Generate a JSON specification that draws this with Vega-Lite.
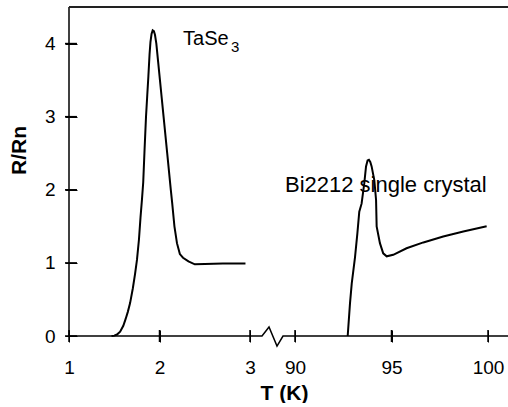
{
  "$schema": "https://vega.github.io/schema/vega-lite/v6.json",
  "padding": {"left": 8, "top": 6, "right": 0, "bottom": 0},
  "background": "white",
  "spacing": 0,
  "bounds": "flush",
  "config": {"view": {"stroke": null}, "font": "Liberation Sans", "axis": {"tickColor": "black", "tickSize": 12, "ticks": true}},
  "datasets": {
    "tase3": [
      {"T": 1.47, "R": 0}, {"T": 1.50, "R": 0.005}, {"T": 1.53, "R": 0.02}, {"T": 1.565, "R": 0.06},
      {"T": 1.60, "R": 0.14}, {"T": 1.625, "R": 0.23}, {"T": 1.65, "R": 0.33}, {"T": 1.675, "R": 0.45},
      {"T": 1.705, "R": 0.65}, {"T": 1.73, "R": 0.85}, {"T": 1.751, "R": 1.04}, {"T": 1.773, "R": 1.32},
      {"T": 1.79, "R": 1.62}, {"T": 1.807, "R": 1.88}, {"T": 1.82, "R": 2.1}, {"T": 1.835, "R": 2.55},
      {"T": 1.851, "R": 3.0}, {"T": 1.865, "R": 3.3}, {"T": 1.877, "R": 3.55}, {"T": 1.89, "R": 3.85},
      {"T": 1.90, "R": 4.02}, {"T": 1.912, "R": 4.13}, {"T": 1.925, "R": 4.18}, {"T": 1.938, "R": 4.17},
      {"T": 1.95, "R": 4.12}, {"T": 1.965, "R": 4.0}, {"T": 1.985, "R": 3.75}, {"T": 2.005, "R": 3.5},
      {"T": 2.025, "R": 3.25}, {"T": 2.045, "R": 3.0}, {"T": 2.085, "R": 2.5}, {"T": 2.125, "R": 2.0},
      {"T": 2.14, "R": 1.82}, {"T": 2.165, "R": 1.5}, {"T": 2.193, "R": 1.27}, {"T": 2.225, "R": 1.12},
      {"T": 2.26, "R": 1.07}, {"T": 2.32, "R": 1.02}, {"T": 2.39, "R": 0.98}, {"T": 2.5, "R": 0.985},
      {"T": 2.7, "R": 0.99}, {"T": 2.95, "R": 0.99}
    ],
    "bi2212": [
      {"T": 92.73, "R": 0}, {"T": 92.85, "R": 0.45}, {"T": 92.94, "R": 0.72}, {"T": 93.11, "R": 1.08},
      {"T": 93.23, "R": 1.40}, {"T": 93.33, "R": 1.70}, {"T": 93.45, "R": 1.81}, {"T": 93.59, "R": 2.09},
      {"T": 93.68, "R": 2.32}, {"T": 93.76, "R": 2.40}, {"T": 93.83, "R": 2.41}, {"T": 93.9, "R": 2.38},
      {"T": 93.97, "R": 2.32}, {"T": 94.11, "R": 2.13}, {"T": 94.20, "R": 1.86}, {"T": 94.23, "R": 1.50},
      {"T": 94.40, "R": 1.27}, {"T": 94.57, "R": 1.13}, {"T": 94.75, "R": 1.09}, {"T": 95.09, "R": 1.11},
      {"T": 95.78, "R": 1.20}, {"T": 96.65, "R": 1.28}, {"T": 97.68, "R": 1.36}, {"T": 98.72, "R": 1.43},
      {"T": 99.93, "R": 1.50}
    ],
    "breakline": [
      {"T": 87.668, "R": 0}, {"T": 88.29, "R": 0}, {"T": 88.653, "R": 0.123},
      {"T": 89.067, "R": -0.137}, {"T": 89.378, "R": 0}, {"T": 101.036, "R": 0}
    ],
    "one": [{"k": 1}],
    "xticksLeft": [{"T": 1}, {"T": 2}, {"T": 3}],
    "yticks": [{"R": 0}, {"R": 1}, {"R": 2}, {"R": 3}, {"R": 4}],
    "xticksRight": [{"T": 90}, {"T": 95}, {"T": 100}],
    "labelsLeft": [{"T": 2.26, "R": 3.98, "label": "TaSe"}],
    "subLeft": [{"T": 2.79, "R": 3.885, "label": "3"}],
    "labelsRight": [{"T": 89.48, "R": 1.97, "label": "Bi2212 single crystal"}]
  },
  "hconcat": [
    {
      "width": 181,
      "height": 329,
      "layer": [
        {
          "data": {"name": "tase3"},
          "mark": {"type": "line", "color": "black", "strokeWidth": 2},
          "encoding": {
            "x": {
              "field": "T", "type": "quantitative",
              "scale": {"domain": [1, 3], "nice": false, "zero": false},
              "axis": {
                "title": null, "values": [1, 2, 3], "labelExpr": "datum.value", "domain": false, "grid": false,
                "offset": -6,
                "labelFontSize": 19, "labelFont": "Liberation Sans", "labelColor": "black",
                "labelBaseline": "alphabetic", "labelPadding": 31, "labelFlush": false, "labelOverlap": false
              }
            },
            "y": {
              "field": "R", "type": "quantitative",
              "scale": {"domain": [0, 4.5], "nice": false, "zero": false},
              "axis": {
                "title": "R/Rn", "values": [0, 1, 2, 3, 4], "labelExpr": "datum.value", "domain": false, "grid": false,
                "offset": -8,
                "labelFontSize": 19, "labelFont": "Liberation Sans", "labelColor": "black",
                "labelPadding": 10, "labelFlush": false, "labelOverlap": false,
                "titleFontSize": 21, "titleFont": "Liberation Sans", "titleFontWeight": "bold",
                "titleColor": "black", "titleAngle": 270, "titleAlign": "center",
                "titleBaseline": "alphabetic", "titleX": -52, "titleY": 143
              }
            }
          }
        },
        {
          "data": {"name": "one"},
          "mark": {"type": "rule", "color": "black", "strokeWidth": 1.5},
          "encoding": {"y": {"datum": 0, "type": "quantitative"}}
        },
        {
          "data": {"name": "one"},
          "mark": {"type": "rule", "color": "black", "strokeWidth": 1.5},
          "encoding": {"x": {"datum": 1, "type": "quantitative"}}
        },
        {
          "data": {"name": "one"},
          "mark": {"type": "rule", "color": "#222", "strokeWidth": 2},
          "encoding": {"y": {"datum": 4.5, "type": "quantitative"}}
        },
        {
          "data": {"name": "xticksLeft"},
          "mark": {"type": "rule", "color": "black", "strokeWidth": 1.5},
          "encoding": {
            "x": {"field": "T", "type": "quantitative"},
            "y": {"datum": -0.082, "type": "quantitative"},
            "y2": {"datum": 0.082}
          }
        },
        {
          "data": {"name": "yticks"},
          "mark": {"type": "rule", "color": "black", "strokeWidth": 1.5},
          "encoding": {
            "y": {"field": "R", "type": "quantitative"},
            "x": {"datum": 0.956, "type": "quantitative"},
            "x2": {"datum": 1.088}
          }
        },
        {
          "data": {"name": "labelsLeft"},
          "mark": {"type": "text", "align": "left", "baseline": "alphabetic", "fontSize": 20, "font": "Liberation Sans", "color": "black"},
          "encoding": {
            "x": {"field": "T", "type": "quantitative"},
            "y": {"field": "R", "type": "quantitative"},
            "text": {"field": "label"}
          }
        },
        {
          "data": {"name": "subLeft"},
          "mark": {"type": "text", "align": "left", "baseline": "alphabetic", "fontSize": 15, "font": "Liberation Sans", "color": "black"},
          "encoding": {
            "x": {"field": "T", "type": "quantitative"},
            "y": {"field": "R", "type": "quantitative"},
            "text": {"field": "label"}
          }
        }
      ]
    },
    {
      "width": 258,
      "height": 329,
      "layer": [
        {
          "data": {"name": "bi2212"},
          "mark": {"type": "line", "color": "black", "strokeWidth": 2},
          "encoding": {
            "x": {
              "field": "T", "type": "quantitative",
              "scale": {"domain": [87.668, 101.036], "nice": false, "zero": false},
              "axis": {
                "title": "T (K)", "values": [90, 95, 100], "labelExpr": "datum.value", "domain": false, "grid": false,
                "offset": -6,
                "labelFontSize": 19, "labelFont": "Liberation Sans", "labelColor": "black",
                "labelBaseline": "alphabetic", "labelPadding": 31, "labelFlush": false, "labelOverlap": false,
                "titleFontSize": 21, "titleFont": "Liberation Sans", "titleFontWeight": "bold",
                "titleColor": "black", "titleAlign": "center", "titleBaseline": "alphabetic",
                "titleX": 34, "titleY": 69
              }
            },
            "y": {
              "field": "R", "type": "quantitative",
              "scale": {"domain": [0, 4.5], "nice": false, "zero": false},
              "axis": null
            }
          }
        },
        {
          "data": {"name": "breakline"},
          "mark": {"type": "line", "color": "black", "strokeWidth": 1.5},
          "encoding": {
            "x": {"field": "T", "type": "quantitative"},
            "y": {"field": "R", "type": "quantitative"}
          }
        },
        {
          "data": {"name": "one"},
          "mark": {"type": "rule", "color": "#222", "strokeWidth": 2},
          "encoding": {"y": {"datum": 4.5, "type": "quantitative"}}
        },
        {
          "data": {"name": "xticksRight"},
          "mark": {"type": "rule", "color": "black", "strokeWidth": 1.5},
          "encoding": {
            "x": {"field": "T", "type": "quantitative"},
            "y": {"datum": -0.082, "type": "quantitative"},
            "y2": {"datum": 0.082}
          }
        },
        {
          "data": {"name": "labelsRight"},
          "mark": {"type": "text", "align": "left", "baseline": "alphabetic", "fontSize": 22, "font": "Liberation Sans", "color": "black"},
          "encoding": {
            "x": {"field": "T", "type": "quantitative"},
            "y": {"field": "R", "type": "quantitative"},
            "text": {"field": "label"}
          }
        }
      ]
    }
  ]
}
